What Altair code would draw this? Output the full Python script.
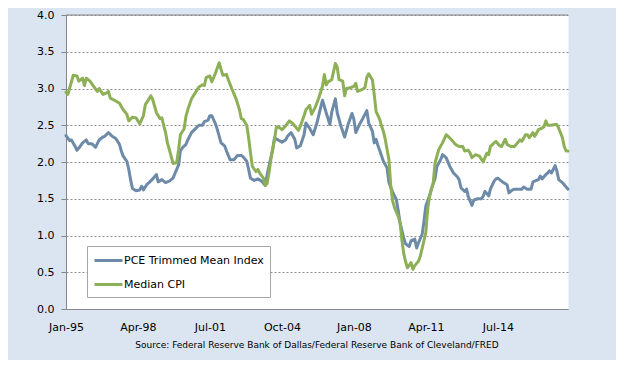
import altair as alt
import pandas as pd

series_names = ["PCE Trimmed Mean Index", "Median CPI"]
series_colors = ["#6d8aa8", "#8db056"]

pce_dates = [
    "1995-01", "1995-03", "1995-04", "1995-06", "1995-07", "1995-08", "1995-10", "1995-12",
    "1996-01", "1996-03", "1996-05", "1996-07", "1996-09", "1996-10", "1996-12",
    "1997-02", "1997-04", "1997-06", "1997-07", "1997-08", "1997-10", "1997-11", "1997-12",
    "1998-01", "1998-03", "1998-05", "1998-06", "1998-07", "1998-09", "1998-10", "1998-12",
    "1999-02", "1999-03", "1999-05", "1999-07", "1999-09", "1999-11", "1999-12",
    "2000-02", "2000-03", "2000-04", "2000-06", "2000-07", "2000-09", "2000-11",
    "2001-01", "2001-03", "2001-04", "2001-06", "2001-07", "2001-08", "2001-10", "2001-11",
    "2002-01", "2002-03", "2002-04", "2002-06", "2002-08", "2002-10", "2002-12",
    "2003-01", "2003-03", "2003-04", "2003-05", "2003-07", "2003-09", "2003-11", "2003-12",
    "2004-01", "2004-02", "2004-03", "2004-05", "2004-06", "2004-08", "2004-10", "2004-12",
    "2005-01", "2005-03", "2005-05", "2005-06", "2005-08", "2005-10", "2005-11",
    "2006-01", "2006-03", "2006-05", "2006-07", "2006-08", "2006-10", "2006-12",
    "2007-01", "2007-03", "2007-04", "2007-06", "2007-08", "2007-10", "2007-12",
    "2008-01", "2008-02", "2008-04", "2008-06", "2008-08", "2008-09", "2008-11", "2008-12",
    "2009-01", "2009-02", "2009-03", "2009-05", "2009-07", "2009-08", "2009-10", "2009-12",
    "2010-01", "2010-02", "2010-04", "2010-05", "2010-07", "2010-08", "2010-10", "2010-11", "2010-12",
    "2011-02", "2011-03", "2011-04", "2011-06", "2011-07", "2011-09", "2011-10", "2011-12",
    "2012-01", "2012-03", "2012-05", "2012-07", "2012-09", "2012-10", "2012-11",
    "2013-01", "2013-02", "2013-03", "2013-05", "2013-06", "2013-08", "2013-10", "2013-11", "2013-12",
    "2014-02", "2014-03", "2014-05", "2014-06", "2014-07", "2014-09", "2014-10", "2014-12",
    "2015-01", "2015-03", "2015-04", "2015-06", "2015-08", "2015-09", "2015-11",
    "2016-01", "2016-02", "2016-03", "2016-05", "2016-06", "2016-07", "2016-09", "2016-10", "2016-11", "2016-12",
    "2017-02", "2017-03", "2017-04", "2017-06", "2017-07", "2017-09",
]
pce_values = [
    2.36, 2.29, 2.30, 2.21, 2.16, 2.19, 2.26, 2.30,
    2.25, 2.25, 2.20, 2.30, 2.34, 2.35, 2.40,
    2.35, 2.32, 2.24, 2.15, 2.08, 2.01, 1.90, 1.76,
    1.64, 1.61, 1.62, 1.67, 1.62, 1.70, 1.72, 1.77,
    1.83, 1.73, 1.76, 1.72, 1.74, 1.78, 1.84,
    1.96, 2.15, 2.19, 2.24, 2.30, 2.40, 2.45,
    2.50, 2.50, 2.55, 2.57, 2.63, 2.63, 2.52, 2.44,
    2.26, 2.22, 2.15, 2.03, 2.03, 2.09, 2.09,
    2.07, 2.01, 1.90, 1.78, 1.75, 1.77, 1.74, 1.71,
    1.68, 1.83, 1.94, 2.17, 2.33, 2.30, 2.27, 2.30,
    2.35, 2.40, 2.31, 2.19, 2.22, 2.37, 2.53,
    2.46, 2.37, 2.53, 2.74, 2.84, 2.67, 2.51,
    2.68, 2.86, 2.67, 2.49, 2.34, 2.52, 2.66,
    2.58, 2.40, 2.51, 2.60, 2.70, 2.53, 2.42, 2.26,
    2.31, 2.22, 2.16, 2.01, 1.92, 1.72, 1.59, 1.49,
    1.34, 1.17, 0.97, 0.89, 0.85, 0.93, 0.95, 0.83, 0.90,
    1.02, 1.19, 1.40, 1.54, 1.63, 1.78, 1.94, 2.03,
    2.10, 2.06, 1.94, 1.85, 1.80, 1.76, 1.65,
    1.60, 1.63, 1.53, 1.41, 1.48, 1.50, 1.50, 1.53, 1.60,
    1.54, 1.63, 1.74, 1.77, 1.78, 1.74, 1.72, 1.69,
    1.58, 1.62, 1.63, 1.63, 1.63, 1.66, 1.63,
    1.63, 1.73, 1.74, 1.76, 1.81, 1.77, 1.83, 1.85, 1.88, 1.85,
    1.95, 1.88, 1.76, 1.72, 1.69, 1.63,
]

cpi_dates = [
    "1995-01", "1995-02", "1995-05", "1995-07", "1995-08", "1995-10", "1995-11", "1995-12",
    "1996-02", "1996-04", "1996-06", "1996-07", "1996-09", "1996-11", "1996-12",
    "1997-01", "1997-04", "1997-06", "1997-08", "1997-10", "1997-11",
    "1998-01", "1998-03", "1998-05", "1998-07", "1998-08", "1998-11", "1998-12",
    "1999-02", "1999-04", "1999-05", "1999-07", "1999-08", "1999-10", "1999-11",
    "2000-01", "2000-02", "2000-03", "2000-05", "2000-06", "2000-07", "2000-09", "2000-11",
    "2001-01", "2001-03", "2001-04", "2001-05", "2001-07", "2001-08", "2001-09", "2001-10", "2001-12",
    "2002-01", "2002-02", "2002-04", "2002-05", "2002-07", "2002-09", "2002-11", "2002-12",
    "2003-01", "2003-03", "2003-04", "2003-05", "2003-06", "2003-08", "2003-09", "2003-10", "2003-12",
    "2004-01", "2004-02", "2004-03", "2004-04", "2004-06", "2004-07", "2004-08", "2004-10", "2004-12",
    "2005-02", "2005-04", "2005-05", "2005-07", "2005-08", "2005-10", "2005-11",
    "2006-01", "2006-02", "2006-04", "2006-06", "2006-08", "2006-09", "2006-10", "2006-11",
    "2007-01", "2007-03", "2007-04", "2007-05", "2007-07", "2007-08", "2007-09", "2007-11",
    "2008-01", "2008-02", "2008-03", "2008-05", "2008-07", "2008-08", "2008-09", "2008-11", "2008-12",
    "2009-01", "2009-03", "2009-04", "2009-05", "2009-06", "2009-08", "2009-09", "2009-10", "2009-11",
    "2010-01", "2010-02", "2010-03", "2010-04", "2010-05", "2010-06", "2010-08", "2010-09", "2010-10", "2010-12",
    "2011-01", "2011-02", "2011-04", "2011-05", "2011-06", "2011-08", "2011-09", "2011-10", "2011-11",
    "2012-01", "2012-03", "2012-04", "2012-06", "2012-08", "2012-10", "2012-12",
    "2013-01", "2013-03", "2013-04", "2013-05", "2013-07", "2013-09", "2013-10", "2013-11",
    "2014-01", "2014-02", "2014-03", "2014-05", "2014-06", "2014-08", "2014-09", "2014-11", "2014-12",
    "2015-02", "2015-04", "2015-05", "2015-07", "2015-08", "2015-10", "2015-11", "2015-12",
    "2016-02", "2016-03", "2016-05", "2016-07", "2016-08", "2016-09", "2016-10", "2016-12",
    "2017-02", "2017-03", "2017-04", "2017-06", "2017-07", "2017-08", "2017-09",
]
cpi_values = [
    2.95, 2.92, 3.18, 3.17, 3.10, 3.14, 3.04, 3.14,
    3.10, 3.03, 2.96, 3.00, 2.92, 2.94, 2.96,
    2.87, 2.83, 2.80, 2.71, 2.65, 2.56,
    2.61, 2.60, 2.52, 2.63, 2.78, 2.90, 2.85,
    2.67, 2.59, 2.60, 2.40, 2.26, 2.08, 1.98,
    1.99, 2.17, 2.37, 2.45, 2.62, 2.71, 2.86, 2.94,
    3.02, 3.05, 3.04, 3.15, 3.17, 3.09, 3.15, 3.21, 3.35,
    3.26, 3.18, 3.19, 3.12, 2.99, 2.87, 2.71, 2.59,
    2.58, 2.50, 2.33, 2.13, 1.94, 1.87, 1.90, 1.85, 1.78,
    1.68, 1.71, 1.85, 2.03, 2.31, 2.47, 2.48, 2.44, 2.49,
    2.56, 2.52, 2.49, 2.43, 2.49, 2.63, 2.71,
    2.77, 2.65, 2.74, 2.87, 3.03, 3.19, 3.05, 3.09,
    3.12, 3.34, 3.29, 3.12, 3.10, 2.90, 3.00, 3.01,
    3.03, 3.07, 2.96, 2.98, 3.01, 3.15, 3.20, 3.12, 2.92,
    2.69, 2.58, 2.49, 2.42, 2.31, 2.03, 1.67, 1.47, 1.38,
    1.26, 1.17, 0.95, 0.76, 0.65, 0.56, 0.63, 0.54, 0.59, 0.65,
    0.72, 0.83, 1.04, 1.35, 1.53, 1.72, 1.99, 2.08, 2.17,
    2.26, 2.37, 2.35, 2.30, 2.24, 2.21, 2.21,
    2.15, 2.16, 2.12, 2.06, 2.10, 2.08, 2.04, 2.00,
    2.12, 2.10, 2.21, 2.26, 2.28, 2.22, 2.21, 2.31, 2.24,
    2.21, 2.21, 2.24, 2.30, 2.28, 2.37, 2.37, 2.33,
    2.40, 2.35, 2.44, 2.46, 2.48, 2.56, 2.50, 2.50,
    2.51, 2.51, 2.46, 2.33, 2.21, 2.15, 2.15,
]

x_tick_months = [(1995, 1), (1998, 4), (2001, 7), (2004, 10), (2008, 1), (2011, 4), (2014, 7)]
x_domain = [(1995, 1), (2017, 9)]
y_ticks = [0.0, 0.5, 1.0, 1.5, 2.0, 2.5, 3.0, 3.5, 4.0]
source_text = "Source: Federal Reserve Bank of Dallas/Federal Reserve Bank of Cleveland/FRED"

FONT = "DejaVu Sans"
AXIS_GRAY = "#868686"

df = pd.concat([
    pd.DataFrame({"date": pd.to_datetime(pce_dates, format="%Y-%m"), "value": pce_values, "series": series_names[0]}),
    pd.DataFrame({"date": pd.to_datetime(cpi_dates, format="%Y-%m"), "value": cpi_values, "series": series_names[1]}),
], ignore_index=True)

x_enc = alt.X(
    "date:T",
    scale=alt.Scale(domain=[alt.DateTime(year=y, month=m, date=1) for y, m in x_domain], nice=False),
    axis=alt.Axis(
        values=[alt.DateTime(year=y, month=m, date=1) for y, m in x_tick_months],
        format="%b-%y", title=None, ticks=False, grid=False, labelFlush=False,
        labelPadding=12, domainColor=AXIS_GRAY, labelFont=FONT, labelFontSize=11,
        labelColor="black", labelOverlap=False,
    ),
)
y_axis = alt.Axis(
    values=y_ticks, format=".1f", title=None, tickSize=5, tickColor=AXIS_GRAY,
    domainColor=AXIS_GRAY, gridColor="#8c8c8c", gridDash=[2, 2], labelPadding=7,
    labelFont=FONT, labelFontSize=11, labelColor="black", labelOverlap=False,
)
y_scale = alt.Scale(domain=[0, 4], nice=False)
y_enc = alt.Y("value:Q", scale=y_scale, axis=y_axis)
color_enc = alt.Color(
    "series:N",
    scale=alt.Scale(domain=series_names, range=series_colors),
    legend=alt.Legend(
        title=None, orient="none", legendX=21, legendY=231, padding=6,
        fillColor="white", strokeColor="#a6a6a6", symbolType="M-1,0H3",
        symbolSize=196, symbolStrokeWidth=3, labelFont=FONT, labelFontSize=11,
        labelColor="black", labelOffset=14, rowPadding=9,
    ),
)

base = alt.Chart(df).mark_line(strokeWidth=3, strokeJoin="round", strokeCap="round").encode(
    x=x_enc, y=y_enc, color=color_enc
)
pce_line = base.transform_filter(alt.datum.series == series_names[0])
cpi_line = base.transform_filter(alt.datum.series == series_names[1])

top_rule = alt.Chart(pd.DataFrame({"value": [y_ticks[-1]]})).mark_rule(color=AXIS_GRAY, strokeWidth=1).encode(
    y=alt.Y("value:Q", scale=y_scale, axis=y_axis)
)

chart = alt.layer(pce_line, cpi_line, top_rule).properties(
    width=502,
    height=294,
    background="#dbe5f1",
    padding={"left": 58, "top": 7, "right": 48, "bottom": 51},
    autosize=alt.AutoSizeParams(type="none"),
    title=alt.TitleParams(
        text=source_text, orient="bottom", anchor="middle", fontSize=9, font=FONT,
        fontWeight="normal", color="black", offset=9,
    ),
).configure_view(fill="white", stroke="transparent")

chart.save("out.html", embed_options={"renderer": "svg", "actions": False})
